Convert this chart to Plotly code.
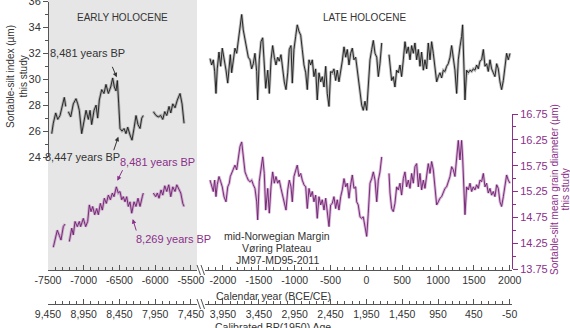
import plotly.graph_objects as go

W, H = 570, 328

# ---------------- data ----------------
# Early Holocene, calendar years (BCE negative) and sortable-silt index (um)
blk_early_year_a = [-7448, -7426, -7392, -7364, -7332, -7300, -7272, -7252]
blk_early_val_a = [25.8, 26.6, 27.4, 26.9, 27.2, 27.9, 28.6, 27.9]
blk_early_year_b = [-7216, -7182, -7146, -7108, -7084, -7062, -7029, -6996, -6968, -6936,
                    -6912, -6889, -6856, -6828, -6805, -6782, -6749, -6717, -6689, -6656,
                    -6623, -6595, -6572, -6549, -6530, -6511, -6493, -6465, -6437, -6409,
                    -6385, -6353, -6325, -6297, -6269, -6241, -6213, -6189, -6167]
blk_early_val_b = [27.5, 27.1, 28.1, 28.5, 28.1, 27.6, 25.8, 26.9, 27.6, 26.9,
                   27.6, 26.5, 27.6, 28.0, 27.0, 28.4, 29.2, 28.9, 29.6, 28.9,
                   29.4, 30.1, 29.4, 29.1, 29.9, 28.1, 26.2, 26.0, 26.2, 25.8,
                   26.3, 25.7, 25.3, 26.2, 27.2, 26.5, 26.2, 27.0, 27.2]
blk_early_year_c = [-6027, -5989, -5957, -5923, -5895, -5867, -5839, -5807, -5783, -5755,
                    -5723, -5691, -5653, -5625, -5597]
blk_early_val_c = [27.5, 27.2, 27.1, 27.2, 26.9, 27.5, 27.2, 27.9, 27.4, 28.1,
                   27.8, 28.4, 28.9, 28.1, 26.6]

# Early Holocene, mean grain diameter (um)
pur_early_year_a = [-7426, -7392, -7370, -7342, -7318, -7286, -7262]
pur_early_val_a = [14.17, 14.40, 14.50, 14.40, 14.31, 14.57, 14.62]
pur_early_year_b = [-7202, -7168, -7146, -7122, -7090, -7062, -7043, -7006, -6973, -6945,
                    -6922, -6898, -6875, -6847, -6819, -6796, -6768, -6740, -6712, -6684,
                    -6656, -6628, -6600, -6577, -6544, -6517, -6493, -6469, -6447, -6423,
                    -6399, -6377, -6353, -6329, -6297, -6269, -6241, -6213, -6181, -6167]
pur_early_val_b = [14.28, 14.54, 14.41, 14.67, 14.57, 14.67, 14.57, 14.73, 14.57, 14.67,
                   14.99, 14.86, 14.96, 14.80, 14.92, 14.80, 15.02, 14.89, 15.12, 15.02,
                   15.18, 15.09, 15.22, 15.15, 15.34, 15.22, 15.25, 15.09, 15.15, 15.05,
                   15.15, 14.96, 15.05, 14.83, 15.05, 14.96, 15.12, 14.96, 15.15, 15.22]
pur_early_year_c = [-6027, -5993, -5971, -5947, -5919, -5895, -5867, -5839, -5811, -5783,
                    -5755, -5723, -5699, -5667, -5643, -5615, -5597]
pur_early_val_c = [15.22, 15.15, 15.22, 15.12, 15.28, 15.18, 15.36, 15.25, 15.38, 15.15,
                   15.34, 15.25, 15.38, 15.28, 15.22, 15.02, 14.96]

# Late Holocene (shared sample years)
late_year_1 = [-2181, -2158, -2135, -2116, -2098, -2080, -2056, -2032, -2010, -1986,
               -1958, -1934, -1912, -1898, -1879, -1856, -1833, -1809, -1787, -1763,
               -1739, -1717, -1693, -1669, -1647, -1623, -1600, -1577, -1554, -1530,
               -1516, -1494, -1470, -1446, -1424, -1404, -1376, -1354, -1330, -1307,
               -1284, -1261, -1237, -1215, -1191, -1167, -1145, -1121, -1097, -1075,
               -1051, -1033, -1010, -986, -964, -940, -916, -894, -870, -846,
               -824, -800, -777, -754, -731, -707, -685, -661, -637, -615,
               -591, -567, -545, -521, -498, -475, -452, -428, -406, -382,
               -358, -336, -312, -288, -266, -242, -219, -196, -173, -149,
               -135, -113, -89, -65, -43, -19, 5, 27, 51, 75, 97, 121, 145, 167, 190, 214]
blk_late_val_1 = [31.6, 31.1, 31.5, 30.6, 28.9, 30.8, 32.1, 31.0, 32.4, 31.7,
                  30.7, 29.7, 30.8, 31.9, 30.5, 31.5, 32.4, 32.0, 32.9, 33.8,
                  35.0, 33.8, 33.0, 32.1, 31.7, 31.5, 30.8, 31.2, 32.0, 30.6,
                  28.4, 31.5, 32.9, 33.2, 31.5, 29.3, 30.7, 28.9, 31.5, 32.6,
                  31.7, 31.1, 31.7, 31.4, 31.9, 30.6, 29.8, 29.2, 30.5, 32.3,
                  32.6, 29.7, 32.3, 33.3, 34.2, 33.7, 33.4, 32.3, 31.1, 30.5,
                  29.2, 31.5, 31.1, 31.5, 30.2, 30.8, 28.4, 30.5, 29.8, 30.2,
                  29.4, 31.0, 28.9, 27.9, 30.6, 30.5, 30.8, 29.9, 30.7, 29.8,
                  30.6, 31.4, 32.5, 31.7, 32.3, 31.1, 32.0, 32.4, 31.5, 31.7,
                  31.1, 30.2, 28.8, 28.0, 27.6, 28.3, 27.6, 29.3, 31.5, 32.3,
                  33.0, 32.0, 31.7, 30.2, 31.2, 32.8]
pur_late_val_1 = [15.47, 15.38, 15.25, 15.47, 15.15, 15.38, 15.54, 15.44, 15.34, 15.15,
                  15.05, 15.34, 15.41, 15.54, 15.60, 15.67, 15.76, 15.67, 15.92, 16.12,
                  16.21, 15.86, 15.63, 15.54, 15.47, 15.44, 15.47, 15.38, 15.31, 15.05,
                  14.70, 15.44, 15.73, 15.92, 15.60, 14.89, 15.31, 14.83, 15.34, 15.63,
                  15.41, 15.54, 15.41, 15.47, 15.31, 15.15, 14.99, 14.89, 15.28, 15.47,
                  15.34, 15.05, 15.54, 15.67, 15.76, 15.54, 15.60, 15.47, 15.38, 15.34,
                  14.92, 15.31, 15.15, 15.25, 15.05, 15.18, 14.73, 15.15, 14.99, 15.09,
                  14.89, 15.12, 14.80, 14.57, 14.99, 15.02, 15.15, 14.92, 15.09, 14.89,
                  15.15, 15.28, 15.50, 15.34, 15.41, 15.12, 15.38, 15.57, 15.31, 15.34,
                  15.05, 14.99, 14.76, 14.73, 14.76, 14.57, 14.38, 14.83, 15.41, 15.50,
                  15.63, 15.47, 15.05, 15.47, 15.63, 15.92]
late_year_2 = [316, 330, 353, 376, 399, 423, 446, 469, 492, 516, 539, 562, 585, 609, 632,
               655, 678, 702, 725, 748, 771, 795, 818, 841, 864, 888, 911, 934, 957, 981,
               1004, 1027, 1050, 1074, 1097, 1120, 1143, 1167, 1190, 1213, 1236, 1260,
               1283, 1306, 1329, 1343, 1362, 1376, 1399, 1422, 1446, 1469, 1492, 1515,
               1539, 1562, 1585, 1608, 1632, 1655, 1678, 1701, 1725, 1748, 1771, 1794,
               1818, 1841, 1864, 1887, 1911, 1934, 1957, 1980, 2004]
blk_late_val_2 = [31.9, 31.0, 29.9, 30.2, 29.4, 30.7, 30.5, 31.1, 30.2, 31.5, 32.9, 32.0,
                  32.5, 31.5, 32.6, 32.0, 32.8, 31.5, 32.3, 31.0, 32.1, 30.7, 31.5, 30.8,
                  32.8, 31.5, 32.9, 32.0, 30.7, 29.8, 30.2, 30.5, 30.1, 30.7, 30.6, 31.0,
                  31.2, 31.7, 32.6, 31.5, 30.7, 28.9, 31.5, 32.5, 33.3, 34.2, 31.5, 28.4,
                  30.7, 30.5, 30.7, 30.6, 30.8, 30.7, 31.1, 30.8, 31.4, 31.5, 32.3, 31.0,
                  31.2, 30.6, 31.5, 30.8, 30.5, 30.2, 31.2, 30.8, 29.8, 29.2, 29.9, 30.8,
                  32.0, 31.5, 32.0]
pur_late_val_2 = [15.60, 15.22, 14.92, 14.86, 15.02, 15.34, 15.28, 15.41, 15.18, 15.50,
                  15.63, 15.34, 15.47, 15.31, 15.60, 15.41, 15.73, 15.79, 15.34, 15.60,
                  15.28, 15.47, 15.31, 15.54, 15.79, 15.60, 15.83, 15.67, 15.28, 14.99,
                  15.05, 15.12, 15.15, 15.25, 15.31, 15.34, 15.44, 15.54, 15.73, 15.67,
                  15.54, 15.89, 16.24, 15.86, 16.24, 15.92, 15.41, 14.80, 15.34, 15.28,
                  15.41, 15.25, 15.34, 15.28, 15.38, 15.31, 15.47, 15.44, 15.60, 15.34,
                  15.41, 15.22, 15.31, 15.18, 15.25, 15.15, 15.38, 15.31, 15.05, 14.96,
                  15.15, 15.34, 15.57, 15.47, 15.41]

# Tick labels
cal_ticks_early = [-7500, -7000, -6500, -6000, -5500]
cal_text_early = ["-7500", "-7000", "-6500", "-6000", "-5500"]
bp_text_early = ["9,450", "8,950", "8,450", "7,950", "7,450"]
cal_ticks_late = [-2000, -1500, -1000, -500, 0, 500, 1000, 1500, 2000]
cal_text_late = ["-2000", "-1500", "-1000", "-500", "0", "500", "1000", "1500", "2000"]
bp_text_late = ["3,950", "3,450", "2,950", "2,450", "1,950", "1,450", "950", "450", "-50"]
ss_ticks = [24, 26, 28, 30, 32, 34, 36]
gd_ticks = [13.75, 14.25, 14.75, 15.25, 15.75, 16.25, 16.75]
gd_text = ["13.75", "14.25", "14.75", "15.25", "15.75", "16.25", "16.75"]

# ---------------- styling ----------------
FONT = "Liberation Sans, Arial, sans-serif"
DARK = "#333333"
AXIS = "#555555"
PURPLE_TXT = "#8a2f8a"
PURPLE_LINE = "#6e1e6e"
PURPLE_HALO = "rgba(175,110,175,0.5)"
GREY_HALO = "rgba(120,120,120,0.5)"


def px(x):
    return x / W


def py(y):
    return 1 - y / H


def join(*segs):
    out = []
    for i, s in enumerate(segs):
        if i:
            out.append(None)
        out.extend(s)
    return out


fig = go.Figure()


def add_series(xs, ys, xa, ya, color, halo):
    fig.add_trace(go.Scatter(x=xs, y=ys, xaxis=xa, yaxis=ya, mode="lines",
                             line=dict(color=halo, width=2.8), connectgaps=False,
                             hoverinfo="skip", showlegend=False))
    fig.add_trace(go.Scatter(x=xs, y=ys, xaxis=xa, yaxis=ya, mode="lines",
                             line=dict(color=color, width=0.9), connectgaps=False,
                             showlegend=False))


add_series(join(blk_early_year_a, blk_early_year_b, blk_early_year_c),
           join(blk_early_val_a, blk_early_val_b, blk_early_val_c),
           "x", "y", "#1a1a1a", GREY_HALO)
add_series(join(late_year_1, late_year_2), join(blk_late_val_1, blk_late_val_2),
           "x2", "y", "#1a1a1a", GREY_HALO)
add_series(join(pur_early_year_a, pur_early_year_b, pur_early_year_c),
           join(pur_early_val_a, pur_early_val_b, pur_early_val_c),
           "x", "y2", PURPLE_LINE, PURPLE_HALO)
add_series(join(late_year_1, late_year_2), join(pur_late_val_1, pur_late_val_2),
           "x2", "y2", PURPLE_LINE, PURPLE_HALO)
# anchors for the BP axes
fig.add_trace(go.Scatter(x=[-7500], y=[30], xaxis="x3", yaxis="y", mode="markers",
                         marker=dict(opacity=0), hoverinfo="skip", showlegend=False))
fig.add_trace(go.Scatter(x=[0], y=[30], xaxis="x4", yaxis="y", mode="markers",
                         marker=dict(opacity=0), hoverinfo="skip", showlegend=False))

early_range = [-7500, -5416]
late_range = [-2251, 2032]
dom_early = [px(48), px(197)]
dom_late = [px(205), px(512)]
tickfont = dict(family=FONT, size=10.5, color=DARK)


def xax(dom, rng, vals, text, pos):
    return dict(domain=dom, range=rng, anchor="free", position=pos, automargin=False,
                showline=True, linecolor=AXIS, linewidth=1,
                tickmode="array", tickvals=vals, ticktext=text,
                ticks="inside", ticklen=5, tickcolor=AXIS, tickwidth=1,
                ticklabeloverflow="allow",
                minor=dict(dtick=100, tick0=-7500, ticks="inside", ticklen=3,
                           tickcolor=AXIS, showgrid=False),
                showgrid=False, zeroline=False, tickfont=tickfont, fixedrange=True)


fig.update_layout(
    template="none",
    width=W, height=H, autosize=False,
    margin=dict(l=0, r=0, t=0, b=0, pad=0),
    paper_bgcolor="white", plot_bgcolor="rgba(0,0,0,0)",
    showlegend=False,
    xaxis=xax(dom_early, early_range, cal_ticks_early, cal_text_early, py(270)),
    xaxis2=xax(dom_late, late_range, cal_ticks_late, cal_text_late, py(270)),
    xaxis3=xax(dom_early, early_range, cal_ticks_early, bp_text_early, py(304)),
    xaxis4=xax(dom_late, late_range, cal_ticks_late, bp_text_late, py(304)),
    yaxis=dict(domain=[py(157), py(1.5)], range=[24, 36], anchor="free", position=px(48),
               automargin=False, ticklabeloverflow="allow",
               showline=True, linecolor=AXIS, linewidth=1,
               tickmode="array", tickvals=ss_ticks,
               ticks="outside", ticklen=5, tickcolor=AXIS,
               minor=dict(dtick=1, tick0=24, ticks="outside", ticklen=3, tickcolor=AXIS),
               showgrid=False, zeroline=False, tickfont=dict(family=FONT, size=11, color=DARK)),
    yaxis2=dict(domain=[py(269), py(114)], range=[13.75, 16.75], anchor="free",
                position=px(512), side="right", automargin=False, ticklabeloverflow="allow",
                showline=True, linecolor=PURPLE_TXT, linewidth=1,
                tickmode="array", tickvals=gd_ticks, ticktext=gd_text,
                ticks="outside", ticklen=5, tickcolor=PURPLE_TXT,
                minor=dict(dtick=0.25, tick0=13.75, ticks="outside", ticklen=3,
                           tickcolor=PURPLE_TXT),
                showgrid=False, zeroline=False,
                tickfont=dict(family=FONT, size=11, color=PURPLE_TXT)),
)

shapes = [dict(type="rect", xref="paper", yref="paper", x0=px(48), x1=px(197),
               y0=py(270), y1=1, fillcolor="#e6e6e6", line=dict(width=0), layer="below")]
# axis break marks
for yb in (270, 304):
    shapes.append(dict(type="rect", xref="paper", yref="paper", x0=px(197), x1=px(205),
                       y0=py(yb + 3), y1=py(yb - 3), fillcolor="white",
                       line=dict(width=0), layer="above"))
    for xb in (197, 201):
        shapes.append(dict(type="line", xref="paper", yref="paper",
                           x0=px(xb), y0=py(yb - 5), x1=px(xb + 3.5), y1=py(yb + 5),
                           line=dict(color=AXIS, width=1)))
fig.update_layout(shapes=shapes)

ann = []


def text(x, y, s, size=10.5, color=DARK, angle=0, xanchor="center"):
    ann.append(dict(x=px(x), y=py(y), xref="paper", yref="paper", text=s, showarrow=False,
                    xanchor=xanchor, yanchor="middle", textangle=angle,
                    font=dict(family=FONT, size=size, color=color)))


def arrow(x_head, y_head, ax, ay, color):
    ann.append(dict(x=px(x_head), y=py(y_head), xref="paper", yref="paper", text="",
                    showarrow=True, ax=ax, ay=ay, arrowhead=2, arrowsize=0.9,
                    arrowwidth=1, arrowcolor=color))


text(122, 17, "EARLY HOLOCENE", size=10)
text(364, 17, "LATE HOLOCENE", size=10)
text(87, 53, "8,481 years BP", size=11)
text(82, 157, "8,447 years BP", size=11)
text(157, 161.5, "8,481 years BP", size=11, color=PURPLE_TXT)
text(173, 239, "8,269 years BP", size=11, color=PURPLE_TXT)
arrow(116.7, 77.3, -5, -12, DARK)
arrow(118.3, 136.7, -5, 15, DARK)
arrow(117.3, 180.7, 6, -12, PURPLE_TXT)
arrow(132.7, 219, 4, 13, PURPLE_TXT)
text(277, 236, "mid-Norwegian Margin", size=10.5)
text(277, 248, "Vøring Plateau", size=10.5)
text(277, 259.5, "JM97-MD95-2011", size=10.5)
text(273, 295.5, "Calendar year (BCE/CE)", size=10.5)
text(273, 327, "Calibrated BP(1950) Age", size=10.5)
text(10, 77, "Sortable-silt index (µm)", size=10, angle=-90)
text(22.5, 77, "this study", size=10, angle=-90)
text(554, 190, "Sortable-silt mean grain diameter (µm)", size=10,
     color=PURPLE_TXT, angle=-90)
text(564.5, 190, "this study", size=10, color=PURPLE_TXT, angle=-90)
fig.update_layout(annotations=ann)

fig.write_html("out.html")
